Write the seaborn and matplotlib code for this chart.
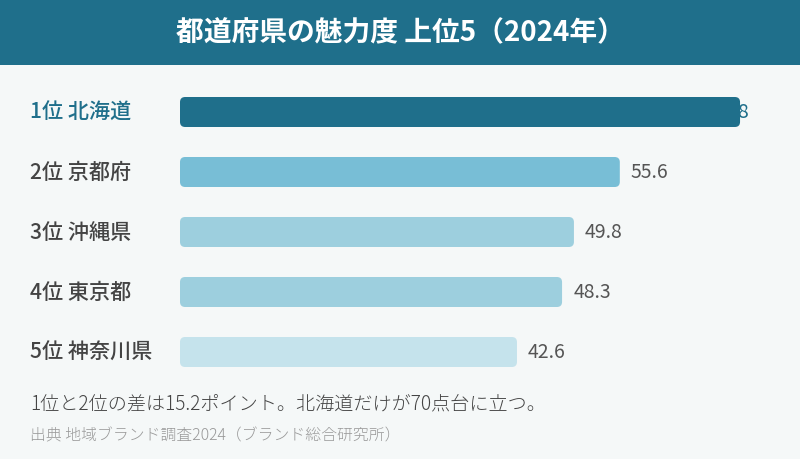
import matplotlib
matplotlib.use("Agg")
import matplotlib.pyplot as plt
from matplotlib.patches import FancyBboxPatch, Rectangle
import seaborn as sns

# data
prefectures = ["1位 北海道", "2位 京都府", "3位 沖縄県", "4位 東京都", "5位 神奈川県"]
scores = [70.8, 55.6, 49.8, 48.3, 42.6]
bar_colors = ["#1f6f8b", "#78bed6", "#9dcfde", "#9dcfde", "#c5e3ec"]

title = "都道府県の魅力度 上位5（2024年）"
note = "1位と2位の差は15.2ポイント。北海道だけが70点台に立つ。"
source = "出典 地域ブランド調査2024（ブランド総合研究所）"

BG = "#f5f8f8"
HEADER = "#1f6f8b"

sns.set_theme(style="white")
plt.rcParams["font.family"] = ["Noto Sans CJK JP", "DejaVu Sans"]

fig = plt.figure(figsize=(8, 4.6), dpi=100, facecolor=BG)
ax = fig.add_axes([180 / 800, 77 / 460, 617 / 800, 300 / 460])
ax.set_facecolor("none")

sns.barplot(x=scores, y=prefectures, hue=prefectures, palette=bar_colors,
            legend=False, orient="h", width=0.5, ax=ax, saturation=1)
ax.set_xlim(0, 78)
ax.set_ylim(4.5, -0.5)

# rounded bar ends
aspect = (1 / 60) / (78 / 617)
for p in list(ax.patches):
    x, y = p.get_x(), p.get_y()
    w, h = p.get_width(), p.get_height()
    fb = FancyBboxPatch((x, y), w, h,
                        boxstyle="round,pad=0,rounding_size=0.65",
                        mutation_aspect=aspect,
                        facecolor=p.get_facecolor(), edgecolor="none",
                        zorder=2)
    p.remove()
    ax.add_patch(fb)

# value labels
for i, v in enumerate(scores):
    if i == 0:
        ax.text(v + 1.15, i, f"{v}", ha="right", va="center",
                fontsize=14, color=bar_colors[0], zorder=1)
    else:
        ax.text(v + 1.4, i, f"{v}", ha="left", va="center",
                fontsize=14, color="#555555")

ax.set_xlabel("")
ax.set_ylabel("")
ax.set_xticks([])
ax.tick_params(axis="y", length=0, pad=108)
for lab in ax.get_yticklabels():
    lab.set_ha("left")
    lab.set_va("center")
    lab.set_fontsize(15.2)
    lab.set_fontweight("medium")
    lab.set_color("#444444")
ax.get_yticklabels()[0].set_color(HEADER)
sns.despine(ax=ax, left=True, bottom=True)

# header band
fig.patches.append(Rectangle((0, 1 - 66 / 460), 1, 66 / 460,
                             transform=fig.transFigure, facecolor=HEADER,
                             edgecolor="none", zorder=0))
fig.text(0.5, 1 - 33 / 460, title, ha="center", va="center",
         fontsize=20, fontweight="bold", color="white")

fig.text(30 / 800, 1 - 404 / 460, note, ha="left", va="center",
         fontsize=13.75, fontweight="light", color="#444444")
fig.text(30 / 800, 1 - 436 / 460, source, ha="left", va="center",
         fontsize=11.4, fontweight="light", color="#999999")

fig.savefig("out.png", dpi=100, facecolor=BG)
